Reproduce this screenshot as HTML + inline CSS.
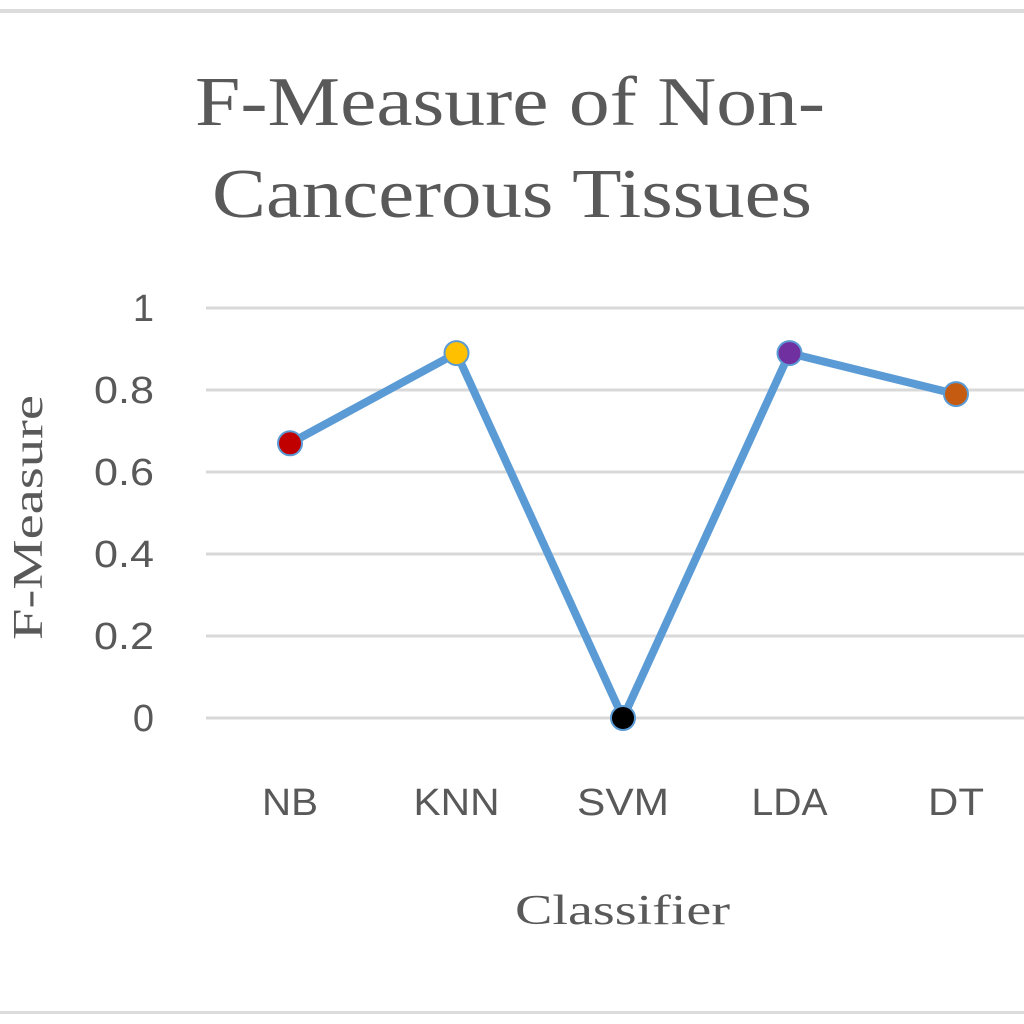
<!DOCTYPE html>
<html><head><meta charset="utf-8"><style>
html,body{margin:0;padding:0;background:#fff;}
svg{display:block;}
</style></head><body>
<svg id="chart" width="1024" height="1024" viewBox="0 0 1024 1024" xmlns="http://www.w3.org/2000/svg">
<rect x="0" y="0" width="1024" height="1024" fill="#fff"/>
<rect x="0" y="9" width="1024" height="4" fill="#dcdcdc"/>
<rect x="0" y="1011" width="1024" height="3" fill="#dcdcdc"/>
<text x="195" y="125" textLength="630" lengthAdjust="spacingAndGlyphs" font-family="Liberation Serif, serif" font-size="70" fill="#595959">F-Measure of Non-</text>
<text x="212" y="217" textLength="600" lengthAdjust="spacingAndGlyphs" font-family="Liberation Serif, serif" font-size="70" fill="#595959">Cancerous Tissues</text>
<text transform="translate(42,640) rotate(-90)" textLength="245" lengthAdjust="spacingAndGlyphs" font-family="Liberation Serif, serif" font-size="42" fill="#595959">F-Measure</text>
<text x="515" y="924" textLength="215" lengthAdjust="spacingAndGlyphs" font-family="Liberation Serif, serif" font-size="42" fill="#595959">Classifier</text>
<g id="grid"></g><g id="yticks"></g><g id="xticks"></g><g id="series"></g>
</svg>
<script>
const categories = ["NB","KNN","SVM","LDA","DT"];
const values = [0.67, 0.89, 0, 0.89, 0.79];
const markerColors = ["#c00000","#ffc000","#000000","#7030a0","#c55a11"];
const yTicks = [0, 0.2, 0.4, 0.6, 0.8, 1];
const yTickLabels = ["0","0.2","0.4","0.6","0.8","1"];

const NS = "http://www.w3.org/2000/svg";
const plotLeft = 206, plotRight = 1024, y0 = 718, y1 = 308;
function yScale(v){ return y0 - (y0 - y1) * v; }
function xScale(i){ return 290 + i * 166.5; }
function mk(tag, attrs, parent){ const e = document.createElementNS(NS, tag); for (const k in attrs) e.setAttribute(k, attrs[k]); parent.appendChild(e); return e; }

const grid = document.getElementById("grid"), yt = document.getElementById("yticks"), xt = document.getElementById("xticks"), ser = document.getElementById("series");
yTicks.forEach((t, i) => {
  const l = mk("line", {x1: plotLeft, x2: plotRight, y1: yScale(t), y2: yScale(t), stroke: "#d9d9d9", "stroke-width": 3}, grid);
  
  
  const lab = yTickLabels[i];
  const attrs = {x: 154, y: yScale(t) + 13, "text-anchor": "end", "font-family": "Liberation Sans, sans-serif", "font-size": "38", fill: "#595959"};
  if (lab.length > 1) { attrs.textLength = 60; attrs.lengthAdjust = "spacingAndGlyphs"; }
  const tx = mk("text", attrs, yt);
  tx.textContent = lab;
  
  
});
const labelWidths = [56, 86, 92, 76, 56];
categories.forEach((c, i) => {
  const tx = mk("text", {x: xScale(i), y: 815, "text-anchor": "middle", textLength: labelWidths[i], lengthAdjust: "spacingAndGlyphs", "font-family": "Liberation Sans, sans-serif", "font-size": "38", fill: "#595959"}, xt);
  tx.textContent = c;
  
  
});
const pts = values.map((v, i) => xScale(i) + "," + yScale(v)).join(" ");
const line = mk("polyline", {points: pts, fill: "none", stroke: "#5b9bd5", "stroke-width": 8, "stroke-linejoin": "round"}, ser);


values.forEach((v, i) => {
  const c = mk("circle", {cx: xScale(i), cy: yScale(v), r: 12, fill: markerColors[i], stroke: "#5b9bd5", "stroke-width": 2}, ser);
  
  
});
</script>
</body></html>
